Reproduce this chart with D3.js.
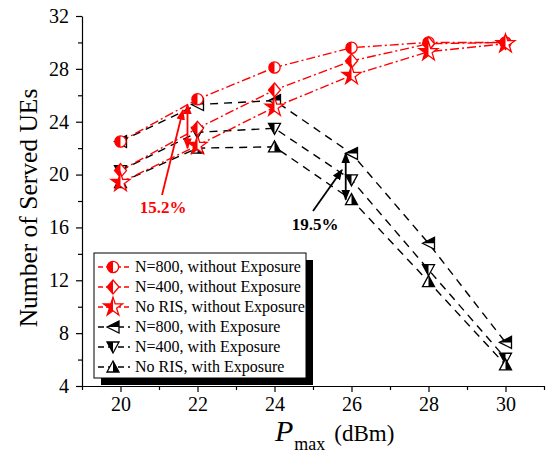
<html>
<head>
<script src="https://d3js.org/d3.v7.min.js"></script>
<style>
  body { margin: 0; background: #fff; }
  text { font-family: "Liberation Serif", "Times New Roman", serif; }
</style>
</head>
<body>
<svg id="chart" width="546" height="459"></svg>
<script>
// data
const xVals = [20, 22, 24, 26, 28, 30];
const n800NoExp  = [22.5, 25.7, 28.1, 29.6, 30.0, 30.0];
const n400NoExp  = [20.3, 23.5, 26.4, 28.6, 29.9, 30.0];
const noRisNoExp = [19.4, 22.2, 25.1, 27.5, 29.3, 29.9];
const n800Exp    = [22.5, 25.3, 25.6, 21.6, 14.8, 7.3];
const n400Exp    = [20.3, 23.2, 23.5, 19.6, 12.8, 6.1];
const noRisExp   = [19.4, 22.0, 22.1, 18.1, 11.9, 5.6];
const xTicks = [20, 22, 24, 26, 28, 30];
const yTicks = [4, 8, 12, 16, 20, 24, 28, 32];
const seriesNames = ["N=800, without Exposure", "N=400, without Exposure", "No RIS, without Exposure",
                     "N=800, with Exposure", "N=400, with Exposure", "No RIS, with Exposure"];

const RED = "#ff0000";
const series = [
  {name: seriesNames[3], vals: n800Exp,    color: "#000", dash: "8,6",      shape: "triLeft"},
  {name: seriesNames[4], vals: n400Exp,    color: "#000", dash: "8,6",      shape: "triDown"},
  {name: seriesNames[5], vals: noRisExp,   color: "#000", dash: "8,6",      shape: "triUp"},
  {name: seriesNames[0], vals: n800NoExp,  color: RED,    dash: "9,3,2,3",  shape: "circle"},
  {name: seriesNames[1], vals: n400NoExp,  color: RED,    dash: "9,3,2,3",  shape: "diamond"},
  {name: seriesNames[2], vals: noRisNoExp, color: RED,    dash: "9,3,2,3",  shape: "star"}
];

const svg = d3.select("#chart");
const x = d3.scaleLinear().domain([19, 31]).range([82, 544]);
const y = d3.scaleLinear().domain([4, 32]).range([386, 16]);

// clip halves for half-filled markers
const defs = svg.append("defs");
[["left", -10, -10, 10, 20], ["right", 0, -10, 10, 20], ["top", -10, -10, 20, 10]].forEach(c => {
  defs.append("clipPath").attr("id", "clip-" + c[0])
    .append("rect").attr("x", c[1]).attr("y", c[2]).attr("width", c[3]).attr("height", c[4]);
});

const shapes = {
  circle:  {d: d3.symbol(d3.symbolCircle, 100)(), half: "left"},
  diamond: {d: "M0,-7L6,0L0,7L-6,0Z", half: "left"},
  star:    {d: d3.symbol(d3.symbolStar, 110)(), half: "left"},
  triLeft: {d: "M-6,0L6,-6L6,6Z", half: "top"},
  triDown: {d: "M-6,-5L6,-5L0,6Z", half: "left"},
  triUp:   {d: "M0,-6L6,5L-6,5Z", half: "right"}
};

function drawMarker(g, shape, color) {
  const s = shapes[shape];
  g.append("path").attr("d", s.d).attr("fill", "#fff").attr("stroke", color).attr("stroke-width", 1.3);
  g.append("path").attr("d", s.d).attr("fill", color).attr("clip-path", "url(#clip-" + s.half + ")");
}

// axes
svg.append("g").attr("transform", "translate(0,386)")
  .call(d3.axisBottom(x).tickValues(xTicks).tickSize(6).tickSizeOuter(0).tickPadding(5));
svg.append("g").attr("transform", "translate(0,386)")
  .call(d3.axisBottom(x).tickValues([19, 21, 23, 25, 27, 29, 31]).tickSize(4).tickFormat("").tickSizeOuter(0))
  .select(".domain").remove();
svg.append("g").attr("transform", "translate(82,0)")
  .call(d3.axisLeft(y).tickValues(yTicks).tickSize(6).tickSizeOuter(0).tickPadding(7));
svg.append("g").attr("transform", "translate(82,0)")
  .call(d3.axisLeft(y).tickValues([6, 10, 14, 18, 22, 26, 30]).tickSize(4).tickFormat(""))
  .select(".domain").remove();
svg.selectAll(".tick text").attr("font-family", "Liberation Serif, serif").attr("font-size", 20).attr("fill", "#000");
svg.selectAll(".domain, .tick line").attr("stroke", "#000").attr("stroke-width", 1.2);

// axis titles
svg.append("text").attr("transform", "translate(37,208) rotate(-90)")
  .attr("text-anchor", "middle").style("font-size", "25.5px").text("Number of Served UEs");
const xt = svg.append("text").attr("x", 275).attr("y", 441);
xt.append("tspan").style("font-style", "italic").style("font-size", "30px").text("P");
xt.append("tspan").attr("dy", 9).attr("dx", 1).style("font-size", "18px").text("max");
xt.append("tspan").attr("dy", -9).attr("dx", 9).style("font-size", "23px").text("(dBm)");

// lines and markers
const line = d3.line().x((d, i) => x(xVals[i])).y(d => y(d));
series.forEach(s => {
  svg.append("path").datum(s.vals).attr("d", line).attr("fill", "none")
    .attr("stroke", s.color).attr("stroke-width", 1.4).attr("stroke-dasharray", s.dash);
});
series.forEach(s => {
  s.vals.forEach((v, i) => {
    drawMarker(svg.append("g").attr("transform", "translate(" + x(xVals[i]) + "," + y(v) + ")"), s.shape, s.color);
  });
});

// annotations
function arrowHead(id, color) {
  defs.append("marker").attr("id", id).attr("viewBox", "0 0 10 10").attr("refX", 9).attr("refY", 5)
    .attr("markerWidth", 6).attr("markerHeight", 6).attr("orient", "auto-start-reverse")
    .append("path").attr("d", "M0,1L10,5L0,9Z").attr("fill", color);
}
arrowHead("ahRed", RED);
arrowHead("ahBlk", "#000");

const xa1 = x(21.74);
svg.append("line").attr("x1", xa1).attr("x2", xa1).attr("y1", y(n800Exp[1])).attr("y2", y(noRisExp[1]))
  .attr("stroke", RED).attr("stroke-width", 1.8)
  .attr("marker-start", "url(#ahRed)").attr("marker-end", "url(#ahRed)");
svg.append("line").attr("x1", 162).attr("y1", 195).attr("x2", 183).attr("y2", 110)
  .attr("stroke", RED).attr("stroke-width", 1.8).attr("marker-end", "url(#ahRed)");
svg.append("text").attr("x", 163).attr("y", 213).attr("text-anchor", "middle")
  .style("font-size", "17px").style("font-weight", "bold").attr("fill", RED).text("15.2%");

const xa2 = x(25.85);
svg.append("line").attr("x1", xa2).attr("x2", xa2).attr("y1", y(n800Exp[3])).attr("y2", y(noRisExp[3]))
  .attr("stroke", "#000").attr("stroke-width", 1.8)
  .attr("marker-start", "url(#ahBlk)").attr("marker-end", "url(#ahBlk)");
svg.append("line").attr("x1", 313).attr("y1", 211).attr("x2", 342).attr("y2", 170)
  .attr("stroke", "#000").attr("stroke-width", 1.8).attr("marker-end", "url(#ahBlk)");
svg.append("text").attr("x", 315).attr("y", 230).attr("text-anchor", "middle")
  .style("font-size", "17px").style("font-weight", "bold").text("19.5%");

// legend
const lg = svg.append("g");
lg.append("rect").attr("x", 101).attr("y", 260).attr("width", 212).attr("height", 125).attr("fill", "#000");
lg.append("rect").attr("x", 94).attr("y", 253).attr("width", 212).attr("height", 125)
  .attr("fill", "#fff").attr("stroke", "#000").attr("stroke-width", 1);
const legendOrder = [3, 4, 5, 0, 1, 2];
legendOrder.forEach((k, i) => {
  const s = series[k];
  const ly = 267 + i * 20;
  lg.append("line").attr("x1", 98).attr("x2", 130).attr("y1", ly).attr("y2", ly)
    .attr("stroke", s.color).attr("stroke-width", 1.4).attr("stroke-dasharray", s.color === RED ? "5,3,2,3" : "6,4");
  drawMarker(lg.append("g").attr("transform", "translate(113," + ly + ")"), s.shape, s.color);
  lg.append("text").attr("x", 135).attr("y", ly + 5).style("font-size", "16px").text(s.name);
});
</script>
</body>
</html>
